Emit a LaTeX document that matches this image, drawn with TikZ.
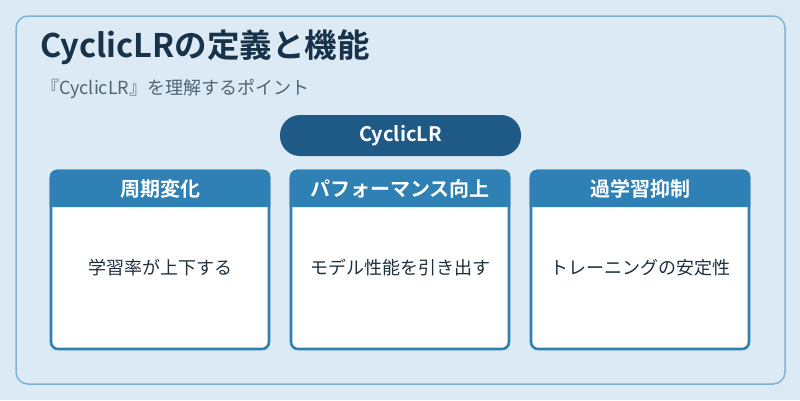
\documentclass[tikz,border=0pt]{standalone}
\usepackage{fontspec}
\setmainfont{Noto Sans CJK JP}[BoldFont={Noto Sans CJK JP Bold}]
\usetikzlibrary{positioning}
\definecolor{pagebg}{HTML}{DBEAF5}
\definecolor{frame}{HTML}{7FB2D6}
\definecolor{titlec}{HTML}{173249}
\definecolor{subc}{HTML}{4D6577}
\definecolor{pillc}{HTML}{1F5A87}
\definecolor{hdrc}{HTML}{2E80B5}
\definecolor{bodyc}{HTML}{1E2F3E}
\tikzset{
  x=1pt, y=-1pt,
  cardbox/.style={draw=hdrc, line width=2.6pt, fill=white, rounded corners=7pt},
  hdrtext/.style={text=white, font=\fontsize{20}{24}\selectfont\bfseries, inner sep=0pt},
  bodytext/.style={text=bodyc, font=\fontsize{18}{22}\selectfont, inner sep=0pt},
}
\begin{document}
\begin{tikzpicture}
\useasboundingbox (0,0) rectangle (800,400);
\fill[pagebg] (0,0) rectangle (800,400);
\draw[frame, line width=1.5pt, fill=pagebg, rounded corners=12pt] (16,16) rectangle (785,384);
\node[anchor=west, text=titlec, font=\fontsize{32.5}{36}\selectfont\bfseries, inner sep=0pt] (title) at (40,47) {CyclicLRの定義と機能};
\node[anchor=west, text=subc, font=\fontsize{18}{21}\selectfont, inner sep=0pt] (sub) at (41,89) {『CyclicLR』を理解するポイント};
\node[fill=pillc, rounded corners=20pt, minimum width=241pt, minimum height=41pt, text=white, font=\fontsize{20}{24}\selectfont\bfseries, inner sep=0pt] (pill) at (400.5,135.5) {CyclicLR};
\foreach \n/\cx/\h/\b in {c1/160/周期変化/学習率が上下する, c2/400/パフォーマンス向上/モデル性能を引き出す, c3/640/過学習抑制/トレーニングの安定性}{
  \draw[cardbox] (\cx-109,171) rectangle (\cx+109,349);
  \fill[hdrc] (\cx-110.3,207) -- (\cx-110.3,177) [rounded corners=7pt] -- (\cx-110.3,169.7) -- (\cx+110.3,169.7) [sharp corners] -- (\cx+110.3,177) -- (\cx+110.3,207) -- cycle;
  \node[hdrtext] (\n h) at (\cx,188.5) {\h};
  \node[bodytext] (\n b) at (\cx,268) {\b};
}
\end{tikzpicture}
\end{document}
